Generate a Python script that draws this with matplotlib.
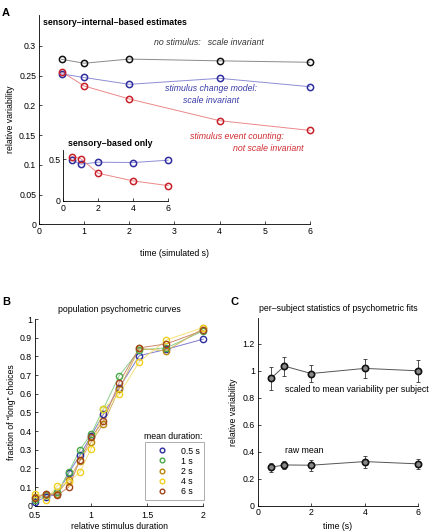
import numpy as np
import matplotlib
matplotlib.use('Agg')
import matplotlib.pyplot as plt

plt.rcParams['font.family'] = ['Liberation Sans', 'DejaVu Sans']
plt.rcParams['font.size'] = 6.3
plt.rcParams['xtick.direction'] = 'in'
plt.rcParams['ytick.direction'] = 'in'
plt.rcParams['xtick.major.size'] = 2
plt.rcParams['ytick.major.size'] = 2
plt.rcParams['axes.linewidth'] = 0.6

# ---- panel A data ----
t_sim = [0.5, 1, 2, 4, 6]
no_stim = [0.2776, 0.271, 0.278, 0.275, 0.2726]
change_model = [0.253, 0.247, 0.2355, 0.2456, 0.2315]
event_count = [0.2567, 0.2327, 0.2108, 0.1743, 0.158]
inset_change = [0.488, 0.44, 0.464, 0.46, 0.488]
inset_count = [0.531, 0.507, 0.332, 0.24, 0.184]

# ---- panel B data ----
rel_dur = [0.5, 0.6, 0.7, 0.8, 0.9, 1.0, 1.11, 1.25, 1.43, 1.67, 2.0]
mean_dur_labels = ['0.5 s', '1 s', '2 s', '4 s', '6 s']
psy_05 = [0.018, 0.048, 0.060, 0.175, 0.270, 0.375, 0.490, 0.632, 0.804, 0.838, 0.893]
psy_1 = [0.030, 0.057, 0.074, 0.180, 0.300, 0.384, 0.520, 0.696, 0.835, 0.846, 0.937]
psy_2 = [0.048, 0.065, 0.065, 0.140, 0.240, 0.340, 0.440, 0.625, 0.843, 0.830, 0.950]
psy_4 = [0.065, 0.030, 0.108, 0.127, 0.180, 0.305, 0.520, 0.596, 0.772, 0.888, 0.955]
psy_6 = [0.040, 0.065, 0.055, 0.100, 0.243, 0.366, 0.455, 0.660, 0.846, 0.867, 0.940]

# ---- panel C data ----
t_real = [0.5, 1, 2, 4, 6]
scaled_mean = [0.944, 1.035, 0.98, 1.018, 1.0]
scaled_err = [0.085, 0.07, 0.065, 0.07, 0.08]
raw_mean = [0.285, 0.302, 0.30, 0.327, 0.31]
raw_err = [0.035, 0.028, 0.04, 0.045, 0.037]


def clean(ax):
    ax.spines['top'].set_visible(False)
    ax.spines['right'].set_visible(False)
    ax.tick_params(labelsize=6.3, pad=2, width=0.5)


def series(ax, x, y, mc, lc, ms=4.5):
    ax.plot(x, y, '-', color=lc, lw=0.7, zorder=2, clip_on=False)
    ax.plot(x, y, 'o', mfc='none', mec=mc, mew=1.1, ms=ms, zorder=3, clip_on=False)


fig = plt.figure(figsize=(4.3, 5.31), dpi=100)

# panel A
axA = fig.add_axes([0.0907, 0.5776, 0.630, 0.394])
clean(axA)
series(axA, t_sim, no_stim, '#111111', '#8a8a8a')
series(axA, t_sim, change_model, '#2e2e9e', '#8c8cd4')
series(axA, t_sim, event_count, '#c8202a', '#ec8888')
axA.set_xlim(0, 6)
axA.set_ylim(0, 0.352)
axA.set_yticks([0, 0.05, 0.1, 0.15, 0.2, 0.25, 0.3])
axA.set_yticklabels(['0', '0.05', '0.1', '0.15', '0.2', '0.25', '0.3'])
axA.set_xticks([0, 1, 2, 3, 4, 5, 6])
axA.set_ylabel('relative variability', labelpad=3)
axA.set_xlabel('time (simulated s)', labelpad=9)
axA.text(0.08, 0.336, 'sensory\u2013internal\u2013based estimates', fontweight='bold')
axA.text(2.55, 0.301, 'no stimulus:   scale invariant', style='italic', color='#333333')
axA.text(2.8, 0.224, 'stimulus change model:', style='italic', color='#3a3aa8')
axA.text(3.2, 0.204, 'scale invariant', style='italic', color='#3a3aa8')
axA.text(3.35, 0.143, 'stimulus event counting:', style='italic', color='#d02a30')
axA.text(4.3, 0.123, 'not scale invariant', style='italic', color='#d02a30')
fig.text(0.005, 0.985, 'A', fontweight='bold', fontsize=8, va='top')

# inset
axI = fig.add_axes([0.147, 0.6215, 0.244, 0.096])
clean(axI)
series(axI, t_sim, inset_change, '#2e2e9e', '#8c8cd4')
series(axI, t_sim, inset_count, '#c8202a', '#ec8888')
axI.set_xlim(0, 6)
axI.set_ylim(0, 0.61)
axI.set_yticks([0, 0.5])
axI.set_yticklabels(['0', '0.5'])
axI.set_xticks([0, 2, 4, 6])
axI.set_facecolor('none')
axI.text(0.3, 0.66, 'sensory\u2013based only', fontweight='bold')

# panel B
axB = fig.add_axes([0.0814, 0.0477, 0.3914, 0.3513])
clean(axB)
axB.tick_params(axis='x', pad=3.5)
colors_B = ['#2b2ba0', '#4aa84a', '#b8860b', '#f0d020', '#a0441c']
lines_B = ['#7c7cd0', '#8ccf8c', '#d2b25a', '#f5e27a', '#cc8a70']
for y, mc, lc, lab in zip([psy_05, psy_1, psy_2, psy_4, psy_6], colors_B, lines_B, mean_dur_labels):
    axB.plot(rel_dur, y, '-', color=lc, lw=0.7, zorder=2, clip_on=False)
    axB.plot(rel_dur, y, 'o', mfc='none', mec=mc, mew=1.0, ms=4.5, zorder=3, label=lab, clip_on=False)
axB.set_xlim(0.5, 2)
axB.set_ylim(0, 1)
axB.set_xticks([0.5, 1, 1.5, 2])
axB.set_xticklabels(['0.5', '1', '1.5', '2'])
axB.set_yticks(np.arange(0, 1.01, 0.1))
axB.set_yticklabels(['0', '0.1', '0.2', '0.3', '0.4', '0.5', '0.6', '0.7', '0.8', '0.9', '1'])
axB.set_xlabel('relative stimulus duration', labelpad=2)
axB.set_ylabel('fraction of "long" choices', labelpad=3)
axB.set_title('population psychometric curves', fontsize=6.3, pad=5)
leg = axB.legend(loc='lower right', bbox_to_anchor=(1.004, 0.03), fontsize=6.3, frameon=True,
                 fancybox=False, edgecolor='#888888', handlelength=3.0, handletextpad=0.6,
                 borderpad=0.5, labelspacing=0.12, markerscale=0.75, borderaxespad=0)
leg.get_frame().set_linewidth(0.6)
fig.text(0.335, 0.173, 'mean duration:')
fig.text(0.005, 0.44, 'B', fontweight='bold', fontsize=8, va='top')

# panel C
axC = fig.add_axes([0.599, 0.0477, 0.374, 0.353])
clean(axC)
for y, e in [(scaled_mean, scaled_err), (raw_mean, raw_err)]:
    eb = axC.errorbar(t_real, y, yerr=e, fmt='-', color='#555555', lw=0.7, elinewidth=0.6,
                      ecolor='#333333', capsize=1.5, capthick=0.6, zorder=2)
    for art in eb.lines[1] + eb.lines[2]:
        art.set_clip_on(False)
    eb.lines[0].set_clip_on(False)
    axC.plot(t_real, y, 'o', mfc='#888888', mec='#111111', mew=1.2, ms=4.5, zorder=3, clip_on=False)
axC.set_xlim(0, 6)
axC.set_ylim(0, 1.39)
axC.set_xticks([0, 2, 4, 6])
axC.set_yticks([0, 0.2, 0.4, 0.6, 0.8, 1.0, 1.2])
axC.set_yticklabels(['0', '0.2', '0.4', '0.6', '0.8', '1', '1.2'])
axC.set_xlabel('time (s)', labelpad=3)
axC.set_ylabel('relative variability', labelpad=3)
axC.set_title('per\u2013subject statistics of psychometric fits', fontsize=6.3, pad=5)
axC.text(1.02, 0.84, 'scaled to mean variability per subject')
axC.text(1.02, 0.39, 'raw mean')
fig.text(0.535, 0.44, 'C', fontweight='bold', fontsize=8, va='top')

fig.savefig('out.png', dpi=100)
